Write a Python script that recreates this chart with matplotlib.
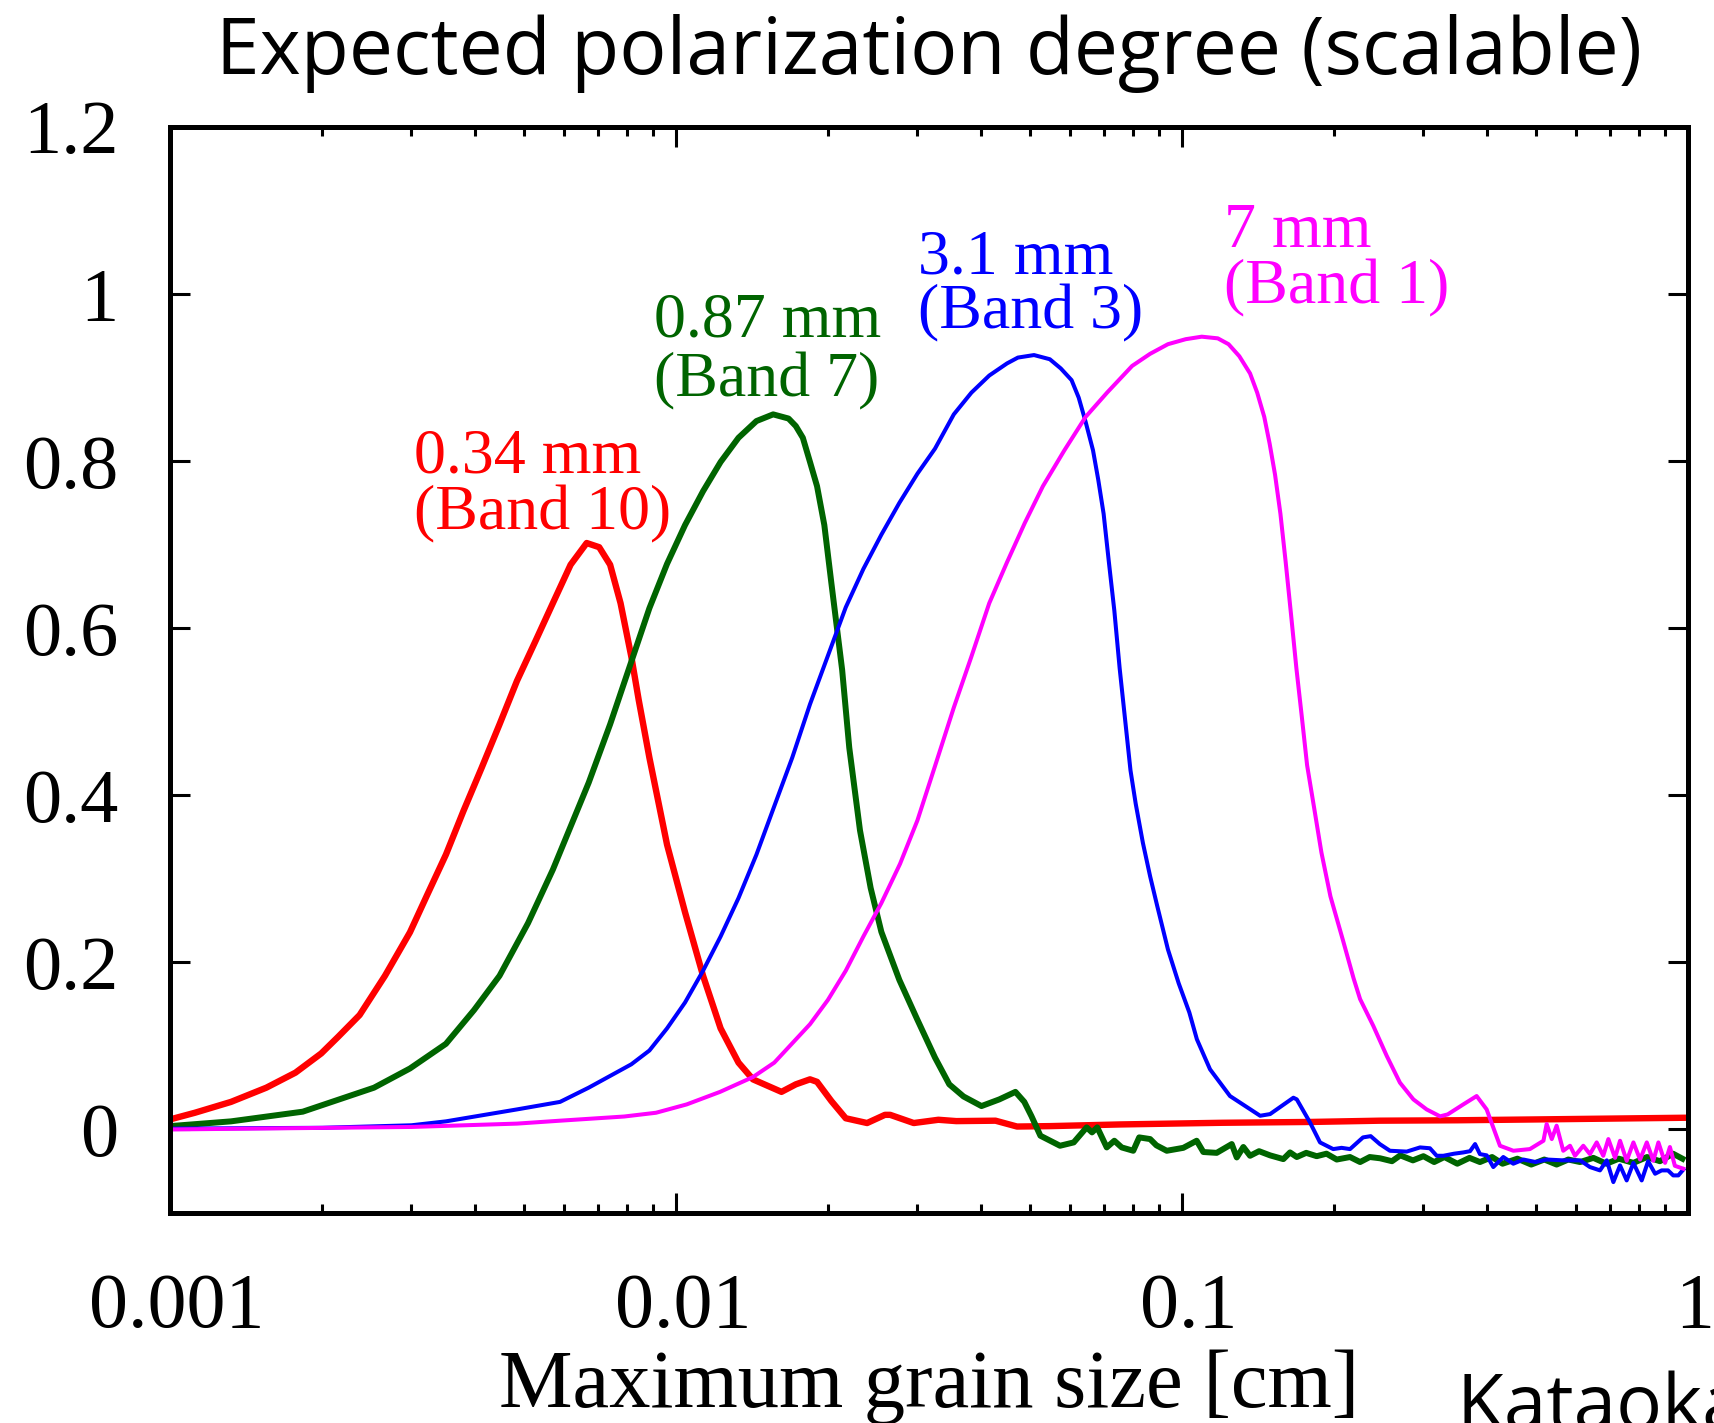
import matplotlib
matplotlib.use("Agg")
import matplotlib.pyplot as plt
import matplotlib.transforms as mtransforms
from matplotlib.ticker import LogLocator, NullFormatter

plt.rcParams['font.family'] = ['Liberation Serif', 'DejaVu Serif']

# 0.34 mm (Band 10)
red_x = [0.001, 0.00112, 0.00132, 0.00155, 0.00177, 0.00199, 0.00215, 0.00237, 0.00266, 0.00298,
         0.00323, 0.00351, 0.0038, 0.00413, 0.00448, 0.00485, 0.00527, 0.00571, 0.00619, 0.00666,
         0.00705, 0.00741, 0.00777, 0.00816, 0.00844, 0.00886, 0.0096, 0.01042, 0.01131, 0.01225,
         0.01329, 0.01419, 0.01616, 0.01725, 0.0184, 0.019, 0.02028, 0.02165, 0.02386, 0.02588,
         0.0265, 0.0295, 0.033, 0.0358, 0.0428, 0.0472, 0.0548, 0.0754, 0.12, 0.18,
         0.246, 0.35, 0.5, 0.7, 0.98]
red_y = [0.012, 0.02, 0.033, 0.05, 0.068, 0.091, 0.111, 0.137, 0.184, 0.236,
         0.282, 0.329, 0.381, 0.433, 0.485, 0.537, 0.584, 0.63, 0.676, 0.702,
         0.697, 0.676, 0.63, 0.566, 0.514, 0.445, 0.341, 0.26, 0.184, 0.121,
         0.08, 0.06, 0.045, 0.054, 0.06, 0.057, 0.034, 0.0134, 0.0077, 0.0175,
         0.0175, 0.0077, 0.0116, 0.01, 0.0105, 0.0035, 0.004, 0.006, 0.008, 0.009,
         0.0105, 0.011, 0.012, 0.013, 0.014]

# 0.87 mm (Band 7)
green_x = [0.001, 0.00132, 0.00183, 0.00253, 0.00298, 0.00351, 0.00399, 0.00448, 0.0051, 0.00571,
           0.00672, 0.00741, 0.00816, 0.00886, 0.0096, 0.01042, 0.01131, 0.01225, 0.01329, 0.01442,
           0.01556, 0.01669, 0.01725, 0.01781, 0.0184, 0.019, 0.01964, 0.02028, 0.0213, 0.022,
           0.0231, 0.02425, 0.02546, 0.02763, 0.02996, 0.0325, 0.03468, 0.037, 0.04015, 0.04355,
           0.04686, 0.04879, 0.0504, 0.0525, 0.0574, 0.0611, 0.0648, 0.0664, 0.068, 0.071,
           0.0735, 0.076, 0.0801, 0.0823, 0.0865, 0.089, 0.0933, 0.1006, 0.1069, 0.1102,
           0.1171, 0.1254, 0.1283, 0.1322, 0.1363, 0.142, 0.1493, 0.1586, 0.1635, 0.1686,
           0.176, 0.1846, 0.193, 0.2022, 0.2148, 0.2249, 0.235, 0.2463, 0.26, 0.27,
           0.286, 0.3, 0.315, 0.33, 0.35, 0.37, 0.388, 0.41, 0.43, 0.46,
           0.49, 0.52, 0.55, 0.58, 0.612, 0.65, 0.69, 0.73, 0.78, 0.83,
           0.88, 0.934, 0.975]
green_y = [0.004, 0.0097, 0.0213, 0.05, 0.073, 0.1025, 0.143, 0.184, 0.247, 0.311,
           0.415, 0.485, 0.56, 0.624, 0.677, 0.7235, 0.764, 0.799, 0.828, 0.848,
           0.856, 0.851, 0.842, 0.828, 0.799, 0.77, 0.7235, 0.654, 0.55, 0.457,
           0.358, 0.289, 0.2365, 0.179, 0.132, 0.086, 0.054, 0.0395, 0.028, 0.036,
           0.045, 0.033, 0.016, -0.0075, -0.0195, -0.0155, 0.0025, -0.0035, 0.0025, -0.0215,
           -0.0135, -0.0215, -0.0255, -0.0095, -0.0115, -0.019, -0.0255, -0.022, -0.0135, -0.027,
           -0.028, -0.0175, -0.0335, -0.021, -0.0315, -0.026, -0.031, -0.0355, -0.0275, -0.033,
           -0.028, -0.032, -0.029, -0.036, -0.033, -0.039, -0.033, -0.0345, -0.038, -0.031,
           -0.037, -0.032, -0.039, -0.033, -0.041, -0.034, -0.039, -0.033, -0.041, -0.035,
           -0.042, -0.036, -0.042, -0.036, -0.039, -0.034, -0.041, -0.035, -0.04, -0.033,
           -0.038, -0.029, -0.035]

# 3.1 mm (Band 3)
blue_x = [0.001, 0.002, 0.003, 0.00351, 0.00485, 0.0059, 0.00672, 0.00816, 0.00886, 0.0096,
          0.01042, 0.01131, 0.01225, 0.01329, 0.01442, 0.01564, 0.01697, 0.0184, 0.01996, 0.02165,
          0.02346, 0.02546, 0.02763, 0.03, 0.0325, 0.0354, 0.03835, 0.0416, 0.0451, 0.0474,
          0.051, 0.0548, 0.0576, 0.0605, 0.0625, 0.0645, 0.0667, 0.0683, 0.07, 0.0717,
          0.0735, 0.0753, 0.0791, 0.081, 0.0837, 0.0865, 0.0893, 0.0938, 0.0985, 0.1034,
          0.107, 0.1136, 0.1244, 0.1427, 0.1493, 0.166, 0.1686, 0.179, 0.1874, 0.199,
          0.2067, 0.2148, 0.2279, 0.236, 0.246, 0.2576, 0.278, 0.2954, 0.309, 0.3187,
          0.3284, 0.345, 0.3597, 0.3709, 0.3795, 0.388, 0.4001, 0.4123, 0.4315, 0.4516,
          0.4727, 0.5, 0.5256, 0.5668, 0.612, 0.64, 0.67, 0.691, 0.712, 0.734,
          0.7565, 0.78, 0.81, 0.834, 0.861, 0.887, 0.913, 0.935, 0.957, 0.979]
blue_y = [0.001, 0.002, 0.005, 0.0097, 0.024, 0.033, 0.05, 0.078, 0.0945, 0.121,
          0.152, 0.19, 0.231, 0.277, 0.329, 0.387, 0.445, 0.509, 0.567, 0.625,
          0.671, 0.712, 0.75, 0.785, 0.815, 0.856, 0.882, 0.9025, 0.917, 0.924,
          0.927, 0.922, 0.911, 0.897, 0.876, 0.847, 0.813, 0.778, 0.737, 0.679,
          0.621, 0.552, 0.43, 0.39, 0.343, 0.303, 0.268, 0.2155, 0.175, 0.14,
          0.108, 0.072, 0.04, 0.0164, 0.0184, 0.038, 0.036, 0.0085, -0.0155, -0.0235,
          -0.022, -0.0235, -0.0095, -0.008, -0.0175, -0.0255, -0.0265, -0.0215, -0.0225, -0.0315,
          -0.0315, -0.029, -0.0275, -0.026, -0.0175, -0.0295, -0.031, -0.045, -0.033, -0.041,
          -0.036, -0.039, -0.036, -0.037, -0.037, -0.045, -0.049, -0.037, -0.063, -0.043,
          -0.061, -0.04, -0.061, -0.038, -0.053, -0.049, -0.049, -0.055, -0.055, -0.048]

# 7 mm (Band 1)
mag_x = [0.001, 0.003, 0.00485, 0.0059, 0.0079, 0.00913, 0.0105, 0.01222, 0.01419, 0.01564,
         0.0184, 0.01996, 0.02165, 0.02346, 0.02546, 0.02772, 0.03, 0.0325, 0.0354, 0.0383,
         0.0416, 0.0451, 0.0489, 0.0531, 0.0585, 0.0645, 0.0711, 0.0797, 0.0865, 0.0938,
         0.1017, 0.1094, 0.1177, 0.1236, 0.1298, 0.1363, 0.1408, 0.1454, 0.149, 0.1527,
         0.1565, 0.1603, 0.1643, 0.1683, 0.1725, 0.1767, 0.1826, 0.1886, 0.1965, 0.2079,
         0.2183, 0.2249, 0.2388, 0.2539, 0.2696, 0.2866, 0.3044, 0.3236, 0.335, 0.3597,
         0.3822, 0.4, 0.425, 0.4518, 0.487, 0.518, 0.5256, 0.538, 0.55, 0.5668,
         0.5846, 0.598, 0.621, 0.64, 0.66, 0.68, 0.696, 0.7175, 0.734, 0.7565,
         0.78, 0.804, 0.829, 0.854, 0.874, 0.901, 0.921, 0.942, 0.979]
mag_y = [0.0, 0.003, 0.007, 0.0105, 0.0155, 0.02, 0.03, 0.045, 0.0627, 0.08,
         0.126, 0.155, 0.19, 0.231, 0.271, 0.318, 0.37, 0.435, 0.505, 0.565,
         0.63, 0.679, 0.726, 0.77, 0.8126, 0.853, 0.882, 0.914, 0.9285, 0.94,
         0.946, 0.949, 0.947, 0.94, 0.9256, 0.905, 0.882, 0.853, 0.821, 0.784,
         0.737, 0.679, 0.6155, 0.552, 0.494, 0.436, 0.3836, 0.3315, 0.279, 0.227,
         0.181, 0.156, 0.124, 0.088, 0.056, 0.036, 0.024, 0.0157, 0.018, 0.03,
         0.04, 0.024, -0.0195, -0.0255, -0.0235, -0.0135, 0.0065, -0.0115, 0.0045, -0.0255,
         -0.0195, -0.0315, -0.0195, -0.0295, -0.0155, -0.0315, -0.0115, -0.034, -0.0135, -0.0375,
         -0.0155, -0.036, -0.0155, -0.0375, -0.0155, -0.04, -0.021, -0.0435, -0.047]

labels = [('0.34 mm', '(Band 10)', 0.00303, 0.7865, 0.718, '#ff0000'),
          ('0.87 mm', '(Band 7)', 0.00904, 0.949, 0.877, '#006400'),
          ('3.1 mm', '(Band 3)', 0.0301, 1.025, 0.959, '#0000ff'),
          ('7 mm', '(Band 1)', 0.1211, 1.0568, 0.989, '#ff00ff')]

xticks = [0.001, 0.01, 0.1, 1]
xtick_labels = ['0.001', '0.01', '0.1', '1']
yticks = [0, 0.2, 0.4, 0.6, 0.8, 1.0, 1.2]
ytick_labels = ['0', '0.2', '0.4', '0.6', '0.8', '1', '1.2']

fig = plt.figure(figsize=(17.14, 14.23), dpi=100)
ax = fig.add_axes([170/1714, 1 - 1213/1423, 1518/1714, 1086/1423])

ax.plot(red_x, red_y, color='#ff0000', lw=4.6)
ax.plot(green_x, green_y, color='#006400', lw=4.3)
ax.plot(blue_x, blue_y, color='#0000ff', lw=2.9)
ax.plot(mag_x, mag_y, color='#ff00ff', lw=2.9)

for l1, l2, x, y1, y2, c in labels:
    ax.text(x, y1, l1, color=c, fontsize=46, ha='left', va='baseline')
    ax.text(x, y2, l2, color=c, fontsize=46, ha='left', va='baseline')

ax.set_xscale('log')
ax.set_xlim(0.001, 1)
ax.set_ylim(-0.1, 1.2)
ax.set_xticks(xticks)
ax.set_xticklabels(xtick_labels)
ax.xaxis.set_minor_locator(LogLocator(base=10, subs=range(2, 10)))
ax.xaxis.set_minor_formatter(NullFormatter())
ax.set_yticks(yticks)
ax.set_yticklabels(ytick_labels)
ax.tick_params(which='both', direction='in', top=True, right=True, width=2.2)
ax.tick_params(which='major', length=14.5)
ax.tick_params(which='minor', length=6.5)
ax.tick_params(axis='x', pad=43, labelsize=56)
ax.tick_params(axis='y', pad=37, labelsize=55)
for s in ax.spines.values():
    s.set_linewidth(3.6)

shift = mtransforms.ScaledTranslation(0.07, 0, fig.dpi_scale_trans)
for lab in ax.get_xticklabels():
    lab.set_transform(lab.get_transform() + shift)

ax.set_xlabel('Maximum grain size [cm]', fontsize=59.5)
ax.xaxis.set_label_coords(0.5, -0.126)

fig.text(0.542, 0.9478, 'Expected polarization degree (scalable)', ha='center',
         va='baseline', fontsize=56.5, family='Open Sans')
fig.text(1457/1714, -0.004, 'Kataoka et al.', ha='left', va='baseline',
         fontsize=55, family='Open Sans')

fig.savefig('out.png', dpi=100)
